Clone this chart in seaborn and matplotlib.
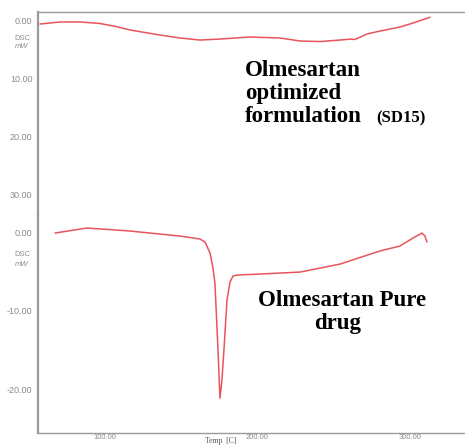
import matplotlib
matplotlib.use("Agg")
import matplotlib.pyplot as plt
import seaborn as sns
import pandas as pd
from matplotlib.ticker import MultipleLocator, FixedLocator

# ---- data ----
temp_formulation = [57.4, 70.5, 83.6, 96.7, 107.9, 116.4, 136.1, 149.2, 162.3, 175.4,
                    195.1, 214.8, 227.9, 241.0, 254.1, 261.5, 263.9, 271.8, 280.3,
                    293.4, 302.0, 313.1]
dsc_formulation = [-0.69, -0.34, -0.34, -0.60, -1.16, -1.72, -2.59, -3.10, -3.45, -3.28,
                   -2.93, -3.10, -3.62, -3.71, -3.45, -3.28, -3.36, -2.41, -1.90,
                   -1.21, -0.52, 0.47]

temp_pure = [67.2, 88.2, 116.4, 129.5, 149.2, 162.3, 165.6, 168.9, 170.8, 172.1, 174.1,
             175.4, 176.7, 178.0, 180.0, 182.0, 183.9, 186.6, 201.6, 227.9, 254.1,
             280.3, 293.4, 302.0, 307.9, 309.8, 311.1]
dsc_pure = [-0.13, 0.51, 0.13, -0.13, -0.51, -0.89, -1.27, -2.68, -4.59, -6.50, -15.03,
            -21.15, -18.85, -15.03, -8.66, -6.37, -5.61, -5.48, -5.35, -5.10, -4.08,
            -2.42, -1.78, -0.76, -0.13, -0.51, -1.27]

top_yticks = [0, -10, -20, -30]
top_yticklabels = ["0.00", "10.00", "20.00", "30.00"]
bot_yticks = [0, -10, -20]
bot_yticklabels = ["0.00", "-10.00", "-20.00"]
xticks = [100, 200, 300]
xticklabels = ["100.00", "200.00", "300.00"]

label_formulation = ["Olmesartan", "optimized", "formulation"]
label_formulation_tag = "(SD15)"
label_pure = ["Olmesartan Pure", "drug"]

sns.set_style("white")
plt.rcParams["font.family"] = ["Liberation Sans", "DejaVu Sans"]

W, H = 465, 445
fig = plt.figure(figsize=(W / 100, H / 100), dpi=100)

def fx(px):
    return px / W

def fy(py):
    return 1 - py / H

left = fx(38)
ax_top = fig.add_axes([left, fy(215), 1 - left, fy(12) - fy(215)])
ax_bot = fig.add_axes([left, fy(433), 1 - left, fy(215) - fy(433)])

line_color = "#e8545a"
grey = "#8a8a8a"
df_f = pd.DataFrame({"T": temp_formulation, "DSC": dsc_formulation})
df_p = pd.DataFrame({"T": temp_pure, "DSC": dsc_pure})
sns.lineplot(data=df_f, x="T", y="DSC", ax=ax_top, color=line_color, lw=1.1,
             sort=False, estimator=None)
sns.lineplot(data=df_p, x="T", y="DSC", ax=ax_bot, color=line_color, lw=1.1,
             sort=False, estimator=None)

xlim = (56.07, 336.07)
for ax in (ax_top, ax_bot):
    ax.set_xlim(*xlim)
    ax.set_xlabel("")
    ax.set_ylabel("")
    ax.patch.set_alpha(0)
    ax.spines["right"].set_visible(False)
    ax.spines["left"].set_color("#9a9a9a")
    ax.spines["left"].set_linewidth(1.6)
    ax.tick_params(axis="y", which="major", direction="out", length=3,
                   width=0.8, colors=grey, labelsize=6.5, pad=1)
    ax.tick_params(axis="y", which="minor", direction="in", length=2,
                   width=0.6, colors="#c0c0c0")

ax_top.set_ylim(-33.6, 1.38)
ax_top.spines["bottom"].set_visible(False)
ax_top.spines["top"].set_color("#9a9a9a")
ax_top.spines["top"].set_linewidth(1.0)
ax_top.set_xticks([])
ax_top.yaxis.set_major_locator(FixedLocator(top_yticks))
ax_top.set_yticklabels(top_yticklabels)
ax_top.yaxis.set_minor_locator(MultipleLocator(2.5))

ax_bot.set_ylim(-25.6, 2.17)
ax_bot.spines["top"].set_visible(False)
ax_bot.spines["bottom"].set_color("#9a9a9a")
ax_bot.spines["bottom"].set_linewidth(1.0)
ax_bot.yaxis.set_major_locator(FixedLocator(bot_yticks))
ax_bot.set_yticklabels(bot_yticklabels)
ax_bot.yaxis.set_minor_locator(MultipleLocator(2.5))
ax_bot.set_xticks(xticks)
ax_bot.set_xticklabels(xticklabels)
ax_bot.xaxis.set_minor_locator(MultipleLocator(20))
ax_bot.tick_params(axis="x", which="major", direction="in", length=3, width=0.6,
                   colors=grey, labelsize=5.5, pad=1)
ax_bot.tick_params(axis="x", which="minor", direction="in", length=2, width=0.6,
                   colors="#b0b0b0")

# DSC mW unit labels
for py in (38, 255):
    fig.text(fx(22), fy(py), "DSC", ha="center", va="center", fontsize=5.5, color=grey)
    fig.text(fx(22), fy(py + 9), "mW", ha="center", va="center", fontsize=5.5,
             color=grey, style="italic")

fig.text(fx(205), fy(437), "Temp  [C]", ha="left", va="top", fontsize=5.5,
         color="#555555", family=["Liberation Serif"])

serif = ["Liberation Serif", "DejaVu Serif"]
fs = 16.5
fig.text(fx(245), fy(70), label_formulation[0], ha="left", va="center",
         fontsize=fs, fontweight="bold", family=serif, color="black")
fig.text(fx(245), fy(94), label_formulation[1], ha="left", va="center",
         fontsize=fs, fontweight="bold", family=serif, color="black")
fig.text(fx(245), fy(117), label_formulation[2], ha="left", va="center",
         fontsize=fs, fontweight="bold", family=serif, color="black")
fig.text(fx(376), fy(118), label_formulation_tag, ha="left", va="center",
         fontsize=12, fontweight="bold", family=serif, color="black")

fig.text(fx(258), fy(300), label_pure[0], ha="left", va="center",
         fontsize=fs, fontweight="bold", family=serif, color="black")
fig.text(fx(314), fy(323), label_pure[1], ha="left", va="center",
         fontsize=fs, fontweight="bold", family=serif, color="black")

fig.savefig("out.png", dpi=100)
